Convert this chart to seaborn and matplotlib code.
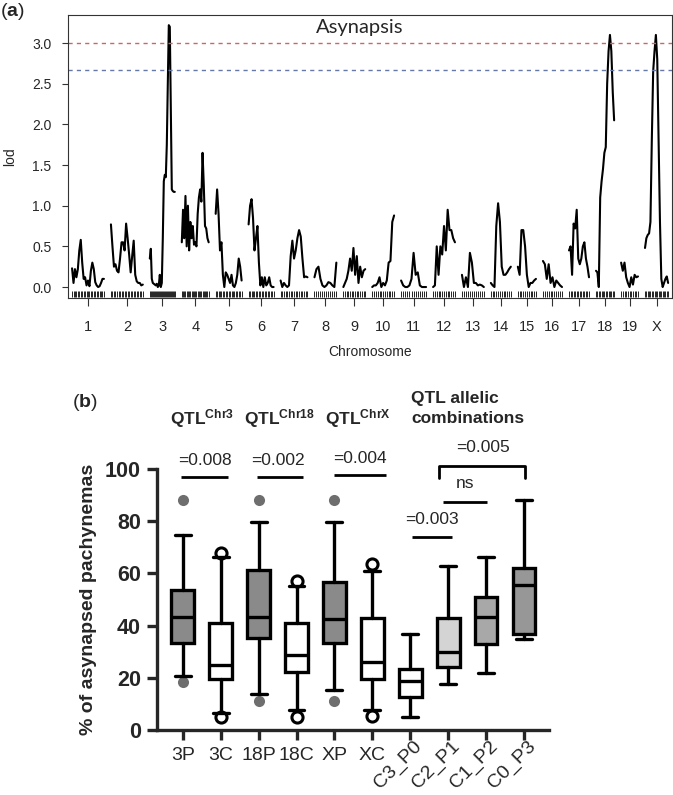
import numpy as np
import pandas as pd
import seaborn as sns
import matplotlib.pyplot as plt
from matplotlib import transforms

# ---------------- panel (a): genome scan, asynapsis ----------------
chrom_names = ["1", "2", "3", "4", "5", "6", "7", "8", "9", "10",
               "11", "12", "13", "14", "15", "16", "17", "18", "19", "X"]
chrom_len = [102, 102, 80, 86, 83, 80, 86, 70, 70, 70,
             80, 70, 70, 64, 58, 61, 64, 58, 54, 74]  # cM
chrom_gap = 22.4

lod_chr1 = [0.23, 0.05, 0.22, 0.12, 0.22, 0.45, 0.58, 0.3, 0.1, 0.12, 0.02, 0.08,
            0.01, 0.2, 0.3, 0.22, 0.06, 0.02, 0.0, 0.01, 0.05, 0.1, 0.1]
lod_chr2 = [0.77, 0.5, 0.25, 0.28, 0.2, 0.18, 0.35, 0.55, 0.55, 0.45, 0.78, 0.6,
            0.4, 0.18, 0.38, 0.57, 0.15, 0.07, 0.05, 0.05, 0.02, 0.03]
lod_chr3 = [0.35, 0.47, 0.1, 0.05, 0.04, 0.03, 0.02, 0.04, 0.0, 0.02, 0.15, 0.0,
            0.05, 0.6, 1.3, 1.38, 1.35, 1.75, 2.5, 3.22, 3.2, 2.2, 1.2, 1.18, 1.17, 1.17]
lod_chr4 = [0.55, 0.95, 0.6, 1.12, 0.5, 1.0, 0.45, 0.8, 0.6, 0.75, 0.52, 0.55,
            0.5, 0.9, 1.1, 1.2, 1.05, 1.65, 1.25, 0.75, 0.72, 0.6, 0.55]
lod_chr5 = [0.9, 1.2, 0.9, 0.45, 0.55, 0.15, 0.0, 0.18, 0.15, 0.1, 0.05, 0.15,
            0.02, 0.0, 0.05, 0.15, 0.35, 0.25, 0.08]
lod_chr6 = [0.77, 1.0, 1.08, 0.85, 0.45, 0.6, 0.75, 0.3, 0.02, 0.12, 0.0, 0.12,
            0.02, 0.05, 0.12, 0.02, 0.0, 0.0]
lod_chr7 = [0.08, 0.0, 0.05, 0.02, 0.0, 0.02, 0.38, 0.57, 0.35, 0.45, 0.6, 0.7,
            0.62, 0.35, 0.12, 0.13, 0.12]
lod_chr8 = [0.12, 0.22, 0.25, 0.1, 0.02, 0.0, 0.02, 0.06, 0.05, 0.02, 0.0, 0.3]
lod_chr9 = [0.0, 0.05, 0.1, 0.2, 0.35, 0.2, 0.48, 0.15, 0.38, 0.05, 0.25, 0.12, 0.2, 0.22]
lod_chr10 = [0.0, 0.02, 0.02, 0.05, 0.12, 0.0, 0.05, 0.02, 0.08, 0.3, 0.32, 0.8, 0.88]
lod_chr11 = [0.08, 0.02, 0.0, 0.0, 0.02, 0.1, 0.42, 0.15, 0.18, 0.02, 0.0, 0.0, 0.0]
lod_chr12 = [0.0, 0.02, 0.5, 0.15, 0.5, 0.4, 0.75, 0.45, 0.95, 0.7, 0.7, 0.6, 0.55]
lod_chr13 = [0.15, 0.0, 0.12, 0.0, 0.42, 0.3, 0.05, 0.05, 0.02, 0.03, 0.02, 0.0]
lod_chr14 = [0.05, 0.02, 0.0, 0.75, 1.03, 0.8, 0.25, 0.15, 0.15, 0.18, 0.22, 0.25]
lod_chr15 = [0.25, 0.15, 0.7, 0.7, 0.5, 0.15, 0.0, 0.05, 0.05, 0.08, 0.1]
lod_chr16 = [0.32, 0.28, 0.1, 0.28, 0.05, 0.12, 0.0, 0.08, 0.05, 0.02, 0.0]
lod_chr17 = [0.45, 0.5, 0.15, 0.78, 0.72, 0.95, 0.35, 0.28, 0.35, 0.5, 0.55, 0.35, 0.25, 0.12]
lod_chr18 = [0.2, 0.18, 0.0, 1.1, 1.3, 1.45, 1.65, 1.72, 2.5, 2.9, 3.1, 2.9, 2.4, 2.05]
lod_chr19 = [0.3, 0.2, 0.3, 0.12, 0.05, 0.0, 0.12, 0.03, 0.15, 0.12, 0.13]
lod_chrX = [0.48, 0.6, 0.64, 0.66, 0.8, 1.8, 2.65, 2.9, 3.1, 2.8, 1.8, 0.8,
            0.1, 0.0, 0.05, 0.1, 0.13, 0.05]

lod_by_chrom = [lod_chr1, lod_chr2, lod_chr3, lod_chr4, lod_chr5, lod_chr6, lod_chr7,
                lod_chr8, lod_chr9, lod_chr10, lod_chr11, lod_chr12, lod_chr13,
                lod_chr14, lod_chr15, lod_chr16, lod_chr17, lod_chr18, lod_chr19,
                lod_chrX]
thr_high = 3.0
thr_low = 2.67

# ---------------- panel (b): % asynapsed pachynemas ----------------
groups = ["3P", "3C", "18P", "18C", "XP", "XC", "C3_P0", "C2_P1", "C1_P2", "C0_P3"]
q1 = [33.3, 19.5, 35.2, 22.2, 33.3, 19.5, 12.6, 24.1, 33.0, 36.8]
med = [43.3, 24.9, 43.3, 28.7, 42.5, 26.0, 18.8, 29.9, 43.3, 55.6]
q3 = [53.6, 41.0, 61.3, 41.0, 56.7, 42.9, 23.4, 42.9, 51.0, 62.0]
whis_lo = [20.7, 6.5, 13.8, 7.7, 15.3, 7.7, 5.0, 17.6, 21.8, 35.0]
whis_hi = [74.7, 66.3, 79.7, 55.2, 79.7, 61.0, 36.8, 62.8, 66.3, 88.1]
outliers = [[88.1, 18.4], [67.8, 5.0], [88.1, 11.1], [57.1, 5.0], [88.1, 11.1],
            [63.6, 5.2], [], [], [], []]
box_fill = ["#8a8a8a", "white", "#8a8a8a", "white", "#8a8a8a", "white",
            "white", "#d4d4d4", "#a8a8a8", "#979797"]

headers = ["QTL$^{\\mathbf{Chr3}}$", "QTL$^{\\mathbf{Chr18}}$", "QTL$^{\\mathbf{ChrX}}$"]
pvals = ["=0.008", "=0.002", "=0.004"]

sns.set_style("ticks")
plt.rcParams['font.family'] = ['Liberation Sans', 'DejaVu Sans']
plt.rcParams['mathtext.fontset'] = 'custom'
plt.rcParams['mathtext.rm'] = 'Liberation Sans'
plt.rcParams['mathtext.bf'] = 'Liberation Sans:bold'
plt.rcParams['mathtext.it'] = 'Liberation Sans:italic'

fig = plt.figure(figsize=(6.73, 7.95), dpi=100)

# ---- (a)
rows = []
offset = 0.0
centers = []
for name, length, lods in zip(chrom_names, chrom_len, lod_by_chrom):
    pos = offset + np.linspace(0, length, len(lods))
    for p, v in zip(pos, lods):
        rows.append({"chrom": name, "pos": p, "lod": v})
    centers.append(offset + length / 2)
    offset += length + chrom_gap
scan = pd.DataFrame(rows)

ax1 = fig.add_axes([68 / 673, 1 - 298 / 795, 604 / 673, 283 / 795])
sns.lineplot(data=scan, x="pos", y="lod", units="chrom", estimator=None,
             sort=False, color="black", lw=1.5, ax=ax1)
ax1.vlines(scan["pos"], -0.12, -0.045, color="black", lw=0.6)
ax1.axhline(thr_high, color="#cc6666", ls=(0, (3, 3)), lw=1.0)
ax1.axhline(thr_low, color="#6677aa", ls=(0, (3, 3)), lw=1.0)
ax1.set_xlim(-13, 1920)
ax1.set_ylim(-0.135, 3.345)
ax1.set_yticks(np.arange(0, 3.01, 0.5))
ax1.set_yticklabels([f"{t:.1f}" for t in np.arange(0, 3.01, 0.5)])
ax1.set_xticks(centers)
ax1.set_xticklabels(chrom_names)
ax1.tick_params(axis="y", labelsize=10, length=4, width=0.8, pad=8, color="#333333")
ax1.tick_params(axis="x", labelsize=10.5, length=6, width=0.8, pad=10, color="#333333")
for s in ax1.spines.values():
    s.set_linewidth(0.8)
    s.set_color("#333333")
ax1.set_ylabel("lod", fontsize=10)
ax1.yaxis.set_label_coords(-0.085, 0.5)
ax1.set_xlabel("Chromosome", fontsize=10)
ax1.xaxis.set_label_coords(0.5, -0.165)
ax1.text(0.483, 0.955, "Asynapsis", transform=ax1.transAxes, ha="center",
         va="center", fontsize=14.5, family=["Lato", "DejaVu Sans"])
fig.text(0, 1 - 11 / 795, "($\\mathbf{a}$)", fontsize=14, va="center", ha="left")

# ---- (b)
ax2 = fig.add_axes([157 / 673, 1 - 730 / 795, 392 / 673, 261 / 795])
stats = []
for i, g in enumerate(groups):
    stats.append({"label": g, "q1": q1[i], "med": med[i], "q3": q3[i],
                  "whislo": whis_lo[i], "whishi": whis_hi[i], "fliers": outliers[i]})
lw = 2.4
bp = ax2.bxp(stats, positions=range(len(groups)), widths=0.6, patch_artist=True,
             boxprops=dict(linewidth=lw, edgecolor="black"),
             medianprops=dict(linewidth=lw, color="black"),
             whiskerprops=dict(linewidth=lw, color="black"),
             capprops=dict(linewidth=lw, color="black", zorder=4),
             capwidths=0.42)
for patch, c in zip(bp["boxes"], box_fill):
    patch.set_facecolor(c)
for i, fl in enumerate(bp["fliers"]):
    fl.set_zorder(3)
    if groups[i].endswith("P"):
        fl.set(marker="o", markersize=8, markerfacecolor="#6e6e6e",
               markeredgecolor="#6e6e6e", markeredgewidth=0)
    else:
        fl.set(marker="o", markersize=8, markerfacecolor="white",
               markeredgecolor="black", markeredgewidth=2.2)

ax2.set_xlim(-0.68, 9.66)
ax2.set_ylim(0, 100)
ax2.set_yticks(range(0, 101, 20))
sns.despine(ax=ax2)
for s in ["left", "bottom"]:
    ax2.spines[s].set_linewidth(2.4)
ax2.tick_params(axis="both", length=7.5, width=2.4, pad=4)
ax2.tick_params(axis="y", labelsize=15.5)
ax2.tick_params(axis="x", labelsize=14, pad=5)
for lab in ax2.get_yticklabels():
    lab.set_fontweight("bold")
shift = transforms.ScaledTranslation(9 / 100, 4 / 100, fig.dpi_scale_trans)
for lab in ax2.get_xticklabels():
    if "_" in lab.get_text():
        lab.set_rotation(45)
        lab.set_ha("right")
        lab.set_va("center")
        lab.set_rotation_mode("anchor")
        lab.set_transform(lab.get_transform() + shift)
ax2.set_ylabel("% of asynapsed pachynemas", fontsize=14, fontweight="bold")
ax2.yaxis.set_label_coords(-0.153, 0.5)

# group headers and single comparisons
hdr_x = [0.5, 2.56, 4.62]
for x, h, p in zip(hdr_x, headers, pvals):
    ax2.text(x, 116.9, h, ha="center", va="baseline", fontsize=12.5,
             fontweight="bold", clip_on=False)
ax2.text(6.02, 125.3, "QTL allelic", ha="left", va="baseline", fontsize=12.5,
         fontweight="bold", clip_on=False)
ax2.text(6.02, 117.6, "combinations", ha="left", va="baseline", fontsize=12.5,
         fontweight="bold", clip_on=False)

pair_lines = [(-0.04, 1.19, 96.9), (1.95, 3.17, 96.9), (3.98, 5.36, 97.7),
              (6.04, 7.10, 73.9), (6.86, 8.02, 87.4)]
pair_text = [(0.59, 101.5, "=0.008"), (2.52, 101.5, "=0.002"), (4.66, 102.3, "=0.004"),
             (6.58, 78.9, "=0.003"), (7.44, 92.7, "ns")]
for x0, x1, y in pair_lines:
    ax2.plot([x0, x1], [y, y], color="black", lw=2.0, clip_on=False,
             solid_capstyle="butt")
for x, y, t in pair_text:
    ax2.text(x, y, t, ha="center", va="baseline", fontsize=12.5, clip_on=False)
ax2.plot([6.75, 6.75, 9.02, 9.02], [96.6, 101.1, 101.1, 96.6], color="black",
         lw=2.0, clip_on=False)
ax2.text(7.92, 106.5, "=0.005", ha="center", va="baseline", fontsize=12.5, clip_on=False)

fig.text(72 / 673, 1 - 407 / 795, "($\\mathbf{b}$)", fontsize=14, va="baseline", ha="left")

fig.savefig("out.png", dpi=100)
